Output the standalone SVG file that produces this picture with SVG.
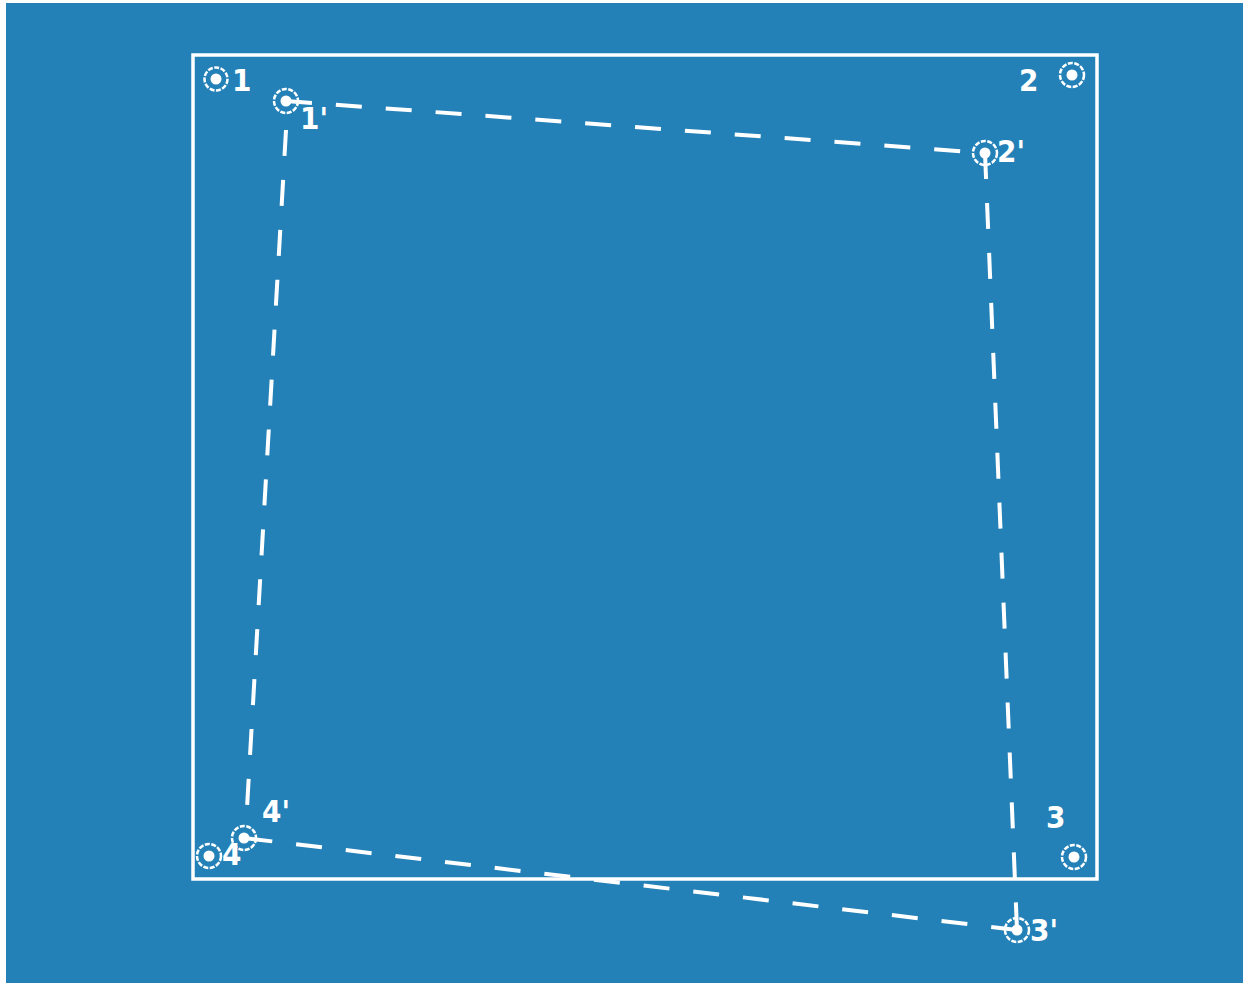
<svg xmlns="http://www.w3.org/2000/svg" width="1243" height="983" viewBox="0 0 1243 983">
<style>
.lbl{font-family:"DejaVu Sans Condensed","Liberation Sans Narrow","DejaVu Sans",sans-serif;font-weight:bold;font-size:31px;fill:#ffffff}
.ring{fill:none;stroke:#ffffff;stroke-width:2.5;stroke-dasharray:5 1.5}
.dot{fill:#ffffff}
.dash{fill:none;stroke:#ffffff;stroke-width:4;stroke-dasharray:26 24}
</style>
<rect x="0" y="0" width="1243" height="983" fill="#ffffff"/>
<rect x="6" y="3" width="1237" height="980" fill="#2481b8"/>
<g id="frame"><rect x="193" y="55" width="904" height="824" fill="none" stroke="#ffffff" stroke-width="3.5"/></g>
<g id="connectors">
<path class="dash" d="M286 101 L985 153"/>
<path class="dash" d="M985 153 L1017 930"/>
<path class="dash" d="M1017 930 L244 838"/>
<path class="dash" d="M286 130 L247 808"/>
</g>
<g id="p1"><circle class="ring" cx="216" cy="79" r="11.5"/><circle class="dot" cx="216" cy="79" r="5.5"/><text class="lbl" x="232" y="91">1</text></g>
<g id="p2"><circle class="ring" cx="1072" cy="75" r="12"/><circle class="dot" cx="1072" cy="75" r="5.5"/><text class="lbl" x="1019" y="91">2</text></g>
<g id="p3"><circle class="ring" cx="1074" cy="857" r="12"/><circle class="dot" cx="1074" cy="857" r="5.5"/><text class="lbl" x="1046" y="828">3</text></g>
<g id="p4"><circle class="ring" cx="209" cy="856" r="12"/><circle class="dot" cx="209" cy="856" r="5.5"/><text class="lbl" x="222" y="865">4</text></g>
<g id="p1p"><circle class="ring" cx="286" cy="101" r="12"/><circle class="dot" cx="286" cy="101" r="5.5"/><text class="lbl" x="300" y="129">1'</text></g>
<g id="p2p"><circle class="ring" cx="985" cy="153" r="12"/><circle class="dot" cx="985" cy="153" r="5.5"/><text class="lbl" x="997" y="162">2'</text></g>
<g id="p3p"><circle class="ring" cx="1017" cy="930" r="12"/><circle class="dot" cx="1017" cy="930" r="5.5"/><text class="lbl" x="1030" y="941">3'</text></g>
<g id="p4p"><circle class="ring" cx="244" cy="838" r="12"/><circle class="dot" cx="244" cy="838" r="5.5"/><text class="lbl" x="262" y="822">4'</text></g>
</svg>
